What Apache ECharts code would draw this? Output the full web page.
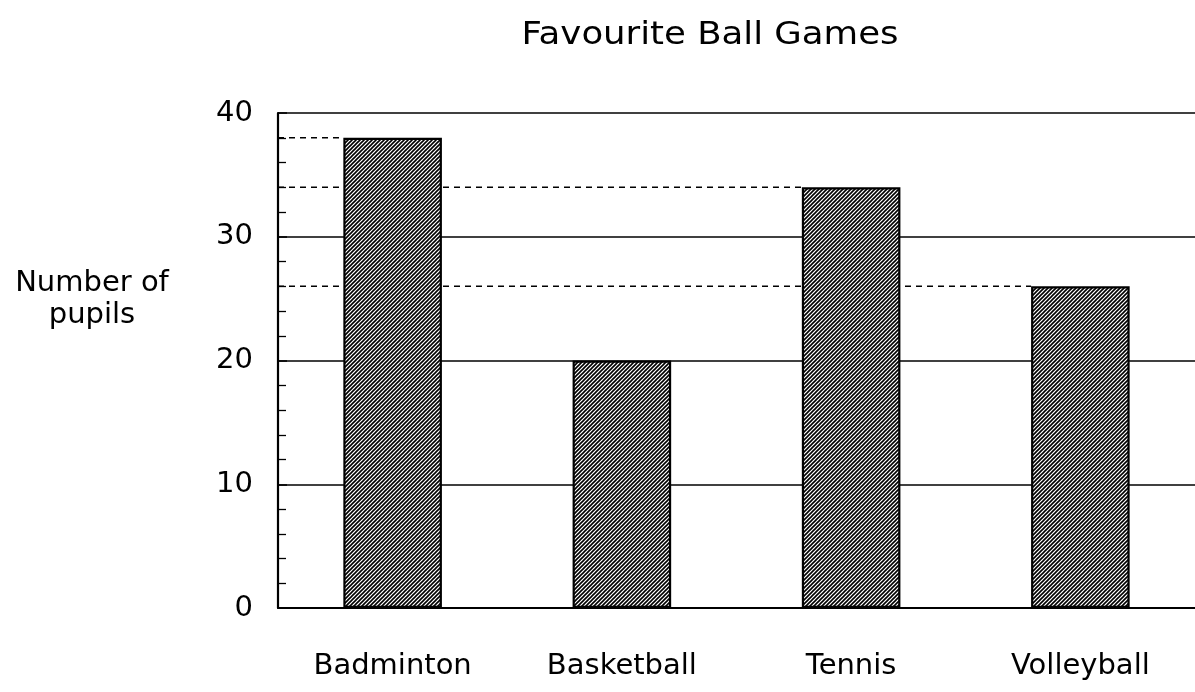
<!DOCTYPE html>
<html><head><meta charset="utf-8">
<script src="https://cdn.jsdelivr.net/npm/echarts@6/dist/echarts.min.js"></script>
<style>html,body{margin:0;padding:0;background:#fff}#c{width:1195px;height:692px}</style>
</head><body><div id="c"></div>
<script>
const categories = ['Badminton', 'Basketball', 'Tennis', 'Volleyball'];
const pupils = [38, 20, 34, 26];
const dashedFor = [0, 2, 3]; // bars whose values are marked with a dashed guide
const yTicks = [0, 10, 20, 30, 40];
const titleText = 'Favourite Ball Games';
const yName = 'Number of\npupils';

const FONT = '"DejaVu Sans", "Liberation Sans", Arial';

function hatch() {
  const s = 4, c = document.createElement('canvas');
  c.width = s; c.height = s;
  const g = c.getContext('2d');
  g.fillStyle = '#fff'; g.fillRect(0, 0, s, s);
  g.strokeStyle = '#000'; g.lineWidth = 1.6;
  g.beginPath();
  g.moveTo(-1, s + 1); g.lineTo(s + 1, -1);
  g.moveTo(-1, 1); g.lineTo(1, -1);
  g.moveTo(s - 1, s + 1); g.lineTo(s + 1, s - 1);
  g.stroke();
  return c;
}

const barFrac = 0.43;
const dashData = [];
dashedFor.forEach(i => {
  dashData.push([0, pupils[i]], [i + 0.5 - barFrac / 2, pupils[i]], null);
});
dashData.pop();

const chart = echarts.init(document.getElementById('c'));
chart.setOption({
  animation: false,
  backgroundColor: '#fff',
  graphic: [{
    type: 'text', x: 710, y: 20, scaleX: 1.11, originX: 0,
    style: { text: titleText, font: '32px ' + FONT, fill: '#000', textAlign: 'center', textVerticalAlign: 'top' }
  }, {
    type: 'text', x: 92, y: 267,
    style: { text: yName, font: '29px ' + FONT, fill: '#000', lineHeight: 32, textAlign: 'center', textVerticalAlign: 'top' }
  }],
  grid: { left: 278, right: -1, top: 113, bottom: 84 },
  xAxis: [{
    type: 'category', data: categories,
    axisLine: { lineStyle: { color: '#000', width: 1.8 } },
    axisTick: { show: false },
    axisLabel: { margin: 44, fontSize: 29, color: '#000', fontFamily: FONT }
  }, {
    type: 'value', min: 0, max: 4, show: false
  }],
  yAxis: {
    type: 'value', min: 0, max: 40, interval: 10,
    axisLine: { show: true, lineStyle: { color: '#000', width: 2.2 } },
    axisTick: { show: true, inside: true, length: 9, lineStyle: { color: '#000', width: 1.5 } },
    minorTick: { show: true, splitNumber: 5, length: 8, lineStyle: { color: '#000', width: 1.3 } },
    splitLine: { show: true, lineStyle: { color: '#000', width: 1.7 } },
    axisLabel: {
      margin: 25, fontSize: 29, color: '#000', fontFamily: FONT,
      formatter: v => yTicks.includes(v) ? String(v) : ''
    }
  },
  series: [{
    type: 'bar', data: pupils, barWidth: (barFrac * 100) + '%',
    itemStyle: { color: { image: hatch(), repeat: 'repeat' }, borderColor: '#000', borderWidth: 2.2 },
    z: 3
  }, {
    type: 'line', xAxisIndex: 1, data: dashData, symbol: 'none', connectNulls: false,
    lineStyle: { color: '#000', width: 1.6, type: [6, 5] }, z: 2
  }]
});
</script></body></html>
